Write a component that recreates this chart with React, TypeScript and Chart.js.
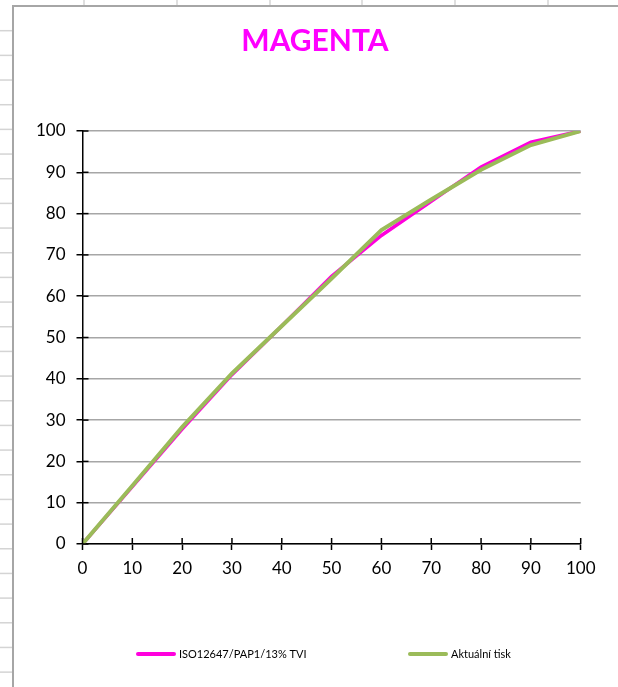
import React, { useEffect, useRef } from "react";
import { Chart, registerables } from "chart.js";

Chart.register(...registerables);

// ---- data ----
const TITLE = "MAGENTA";
const xValues = [0, 10, 20, 30, 40, 50, 60, 70, 80, 90, 100];
const isoValues = [0, 13.9, 27.8, 41.0, 52.8, 64.8, 74.7, 83.0, 91.3, 97.3, 100];
const printValues = [0, 14.1, 28.3, 41.3, 52.8, 64.3, 76.0, 83.4, 90.6, 96.6, 100];
const seriesLabels = ["ISO12647/PAP1/13% TVI", "Aktuální tisk"];
const seriesColors = ["#ff00dd", "#9bbb59"];
const axisMin = 0;
const axisMax = 100;
const axisStep = 10;

const FONT = "Lato, 'Open Sans', sans-serif";

// spreadsheet backdrop + chart frame
const sheetPlugin = {
  id: "sheet",
  beforeDraw(chart: any) {
    const { ctx, width, height } = chart;
    ctx.save();
    ctx.fillStyle = "#ffffff";
    ctx.fillRect(0, 0, width, height);
    ctx.strokeStyle = "#d4d4d4";
    ctx.lineWidth = 1.5;
    for (let y = 30.7; y < height; y += 24.67) {
      ctx.beginPath();
      ctx.moveTo(0, y);
      ctx.lineTo(12, y);
      ctx.stroke();
    }
    for (const x of [84, 177, 270, 362, 455, 548]) {
      ctx.beginPath();
      ctx.moveTo(x, 0);
      ctx.lineTo(x, 5);
      ctx.stroke();
    }
    ctx.strokeStyle = "#a6a6a6";
    ctx.lineWidth = 2;
    ctx.beginPath();
    ctx.moveTo(13, height);
    ctx.lineTo(13, 6);
    ctx.lineTo(width, 6);
    ctx.stroke();
    ctx.restore();
  },
};

// Excel-style "cross" tick marks: inner halves
const crossTickPlugin = {
  id: "crossTicks",
  afterDatasetsDraw(chart: any) {
    const { ctx, chartArea } = chart;
    const xs = chart.scales.x;
    const ys = chart.scales.y;
    ctx.save();
    ctx.strokeStyle = "#000";
    ctx.lineWidth = 1.5;
    xs.ticks.forEach((t: any) => {
      const px = xs.getPixelForValue(t.value);
      ctx.beginPath();
      ctx.moveTo(px, chartArea.bottom);
      ctx.lineTo(px, chartArea.bottom - 6);
      ctx.stroke();
    });
    ys.ticks.forEach((t: any) => {
      const py = ys.getPixelForValue(t.value);
      ctx.beginPath();
      ctx.moveTo(chartArea.left, py);
      ctx.lineTo(chartArea.left + 6, py);
      ctx.stroke();
    });
    ctx.restore();
  },
};

// legend laid out like the Excel one
const legendSlots = [136, 408];
const legendY = 654;
const legendPlugin = {
  id: "excelLegend",
  afterDraw(chart: any) {
    const { ctx } = chart;
    ctx.save();
    ctx.font = `11px ${FONT}`;
    ctx.textBaseline = "middle";
    ctx.fillStyle = "#000";
    chart.data.datasets.forEach((ds: any, i: number) => {
      const x0 = legendSlots[i];
      ctx.strokeStyle = ds.borderColor;
      ctx.lineWidth = 4;
      ctx.lineCap = "round";
      ctx.beginPath();
      ctx.moveTo(x0 + 2, legendY);
      ctx.lineTo(x0 + 38, legendY);
      ctx.stroke();
      ctx.fillText(ds.label, x0 + 43, legendY);
    });
    ctx.restore();
  },
};

export default function App() {
  const ref = useRef<HTMLCanvasElement | null>(null);

  useEffect(() => {
    if (!ref.current) return;
    const chart = new Chart(ref.current, {
      type: "line",
      data: {
        datasets: [
          {
            label: seriesLabels[0],
            data: xValues.map((x, i) => ({ x, y: isoValues[i] })),
            borderColor: seriesColors[0],
            backgroundColor: seriesColors[0],
            borderWidth: 3.5,
            pointRadius: 0,
            tension: 0,
            order: 2,
          },
          {
            label: seriesLabels[1],
            data: xValues.map((x, i) => ({ x, y: printValues[i] })),
            borderColor: seriesColors[1],
            backgroundColor: seriesColors[1],
            borderWidth: 4,
            pointRadius: 0,
            tension: 0,
            order: 1,
          },
        ],
      },
      options: {
        responsive: false,
        animation: false,
        layout: { padding: { left: 12, right: 0, top: 5, bottom: 0 } },
        plugins: {
          legend: { display: false },
          tooltip: { enabled: false },
          title: {
            display: true,
            text: TITLE,
            color: "#ff00ff",
            font: { family: FONT, size: 30, weight: "bold" },
            padding: { top: 18, bottom: 72 },
          },
        },
        scales: {
          x: {
            type: "linear",
            position: "bottom",
            min: axisMin,
            max: axisMax,
            ticks: {
              stepSize: axisStep,
              color: "#000",
              font: { family: FONT, size: 17 },
              padding: 8,
              maxRotation: 0,
            },
            grid: {
              drawOnChartArea: false,
              tickLength: 6,
              tickColor: "#000",
              tickWidth: 1.5,
            },
            border: { color: "#000", width: 1.5 },
            afterFit: (s: any) => {
              s.height = 143;
            },
          },
          y: {
            type: "linear",
            position: "left",
            min: axisMin,
            max: axisMax,
            ticks: {
              stepSize: axisStep,
              color: "#000",
              font: { family: FONT, size: 17 },
              padding: 11,
            },
            grid: {
              color: "#a6a6a6",
              lineWidth: 1.5,
              tickLength: 6,
              tickColor: "#000",
              tickWidth: 1.5,
            },
            border: { color: "#000", width: 1.5 },
            afterFit: (s: any) => {
              s.width = 70.5;
            },
          },
          yPad: {
            type: "linear",
            position: "right",
            grid: { display: false },
            ticks: { display: false },
            border: { display: false },
            afterFit: (s: any) => {
              s.width = 37.3;
            },
          },
        },
      },
      plugins: [sheetPlugin, crossTickPlugin, legendPlugin],
    } as any);
    return () => chart.destroy();
  }, []);

  return (
    <div style={{ position: "absolute", left: 0, top: 0, width: 618, height: 687 }}>
      <canvas ref={ref} width={618} height={687} style={{ display: "block" }} />
    </div>
  );
}
